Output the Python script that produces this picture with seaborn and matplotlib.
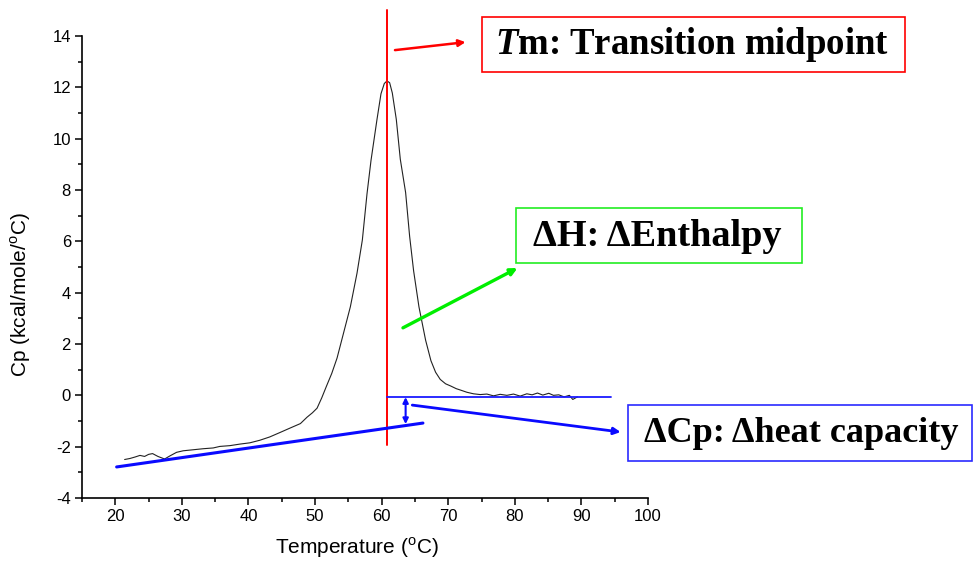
import matplotlib
matplotlib.use("Agg")
import matplotlib.pyplot as plt
from matplotlib.patches import Rectangle
import seaborn as sns
import pandas as pd

# DSC thermogram: excess heat capacity vs temperature
temperature = [21.4, 22.2, 23.0, 23.7, 24.4, 25.0, 25.6, 26.4, 27.4, 28.2, 29.2,
               30.2, 31.7, 33.2, 34.7, 35.7, 37.2, 38.7, 40.2, 41.7, 43.2, 44.8,
               46.2, 47.8, 48.8, 49.6, 50.3, 51.0, 51.7, 52.5, 53.3, 54.0, 55.3,
               56.3, 57.1, 57.8, 58.4, 59.3, 59.9, 60.4, 60.8, 61.2, 61.6, 62.2,
               62.8, 63.6, 64.2, 64.8, 65.6, 66.6, 67.4, 68.1, 68.8, 69.6, 70.4,
               71.2, 71.9, 72.8, 73.8, 74.8, 75.8, 76.8, 77.8, 78.8, 79.8, 80.8,
               81.8, 82.6, 83.4, 84.2, 85.1, 85.8, 86.6, 87.4, 88.2, 88.7, 89.4]
cp = [-2.50, -2.46, -2.40, -2.34, -2.38, -2.30, -2.27, -2.38, -2.48, -2.36, -2.22,
      -2.16, -2.12, -2.08, -2.05, -1.99, -1.96, -1.90, -1.85, -1.75, -1.62, -1.44,
      -1.28, -1.10, -0.85, -0.68, -0.50, -0.10, 0.35, 0.85, 1.45, 2.15, 3.45,
      4.76, 6.05, 7.85, 9.15, 10.75, 11.75, 12.15, 12.25, 12.18, 11.78, 10.75,
      9.20, 7.90, 6.20, 4.85, 3.45, 2.15, 1.35, 0.90, 0.62, 0.45, 0.36,
      0.26, 0.20, 0.12, 0.06, 0.03, 0.05, -0.02, 0.04, 0.00, 0.05, -0.03,
      0.06, 0.02, 0.09, 0.01, 0.08, 0.00, 0.02, -0.06, 0.00, -0.16, -0.06]

# Annotation geometry (data units)
tm = 60.8
tm_span = [-1.95, 15.0]
pre_baseline_x = [20.2, 66.2]
pre_baseline_y = [-2.79, -1.08]
post_baseline_x = [60.8, 94.5]
post_baseline_y = -0.07
dcp_x = 63.6
dcp_span = [-0.07, -1.12]
tm_arrow = [(62.0, 13.45), (72.6, 13.76)]
dh_arrow = [(63.2, 2.63), (80.4, 4.96)]
dcp_arrow = [(64.6, -0.38), (95.9, -1.43)]

x_ticks = [20, 30, 40, 50, 60, 70, 80, 90, 100]
y_ticks = [-4, -2, 0, 2, 4, 6, 8, 10, 12, 14]

sns.set_style("ticks")
plt.rcParams["font.family"] = ["Liberation Sans", "DejaVu Sans"]
plt.rcParams["text.color"] = "black"
plt.rcParams["axes.labelcolor"] = "black"
plt.rcParams["axes.unicode_minus"] = False
plt.rcParams["mathtext.fontset"] = "custom"
plt.rcParams["mathtext.rm"] = "Liberation Sans"
plt.rcParams["mathtext.bfit"] = "Liberation Serif:italic:bold"

fig = plt.figure(figsize=(9.74, 5.76), dpi=100)
ax = fig.add_axes([0.0842, 0.1354, 0.5811, 0.8021])

df = pd.DataFrame({"T": temperature, "Cp": cp})
sns.lineplot(data=df, x="T", y="Cp", ax=ax, color="#222222", lw=0.8, sort=False)

# Transition midpoint and baselines
ax.plot([tm, tm], tm_span, color="#ff0000", lw=1.4, clip_on=False, zorder=3)
ax.plot(pre_baseline_x, pre_baseline_y, color="#0a0aff", lw=2.2, zorder=3)
ax.plot(post_baseline_x, [post_baseline_y, post_baseline_y], color="#1a1aff", lw=1.3, zorder=3)

ax.annotate("", xy=(dcp_x, dcp_span[1]), xytext=(dcp_x, dcp_span[0]),
            arrowprops=dict(arrowstyle="<|-|>", color="#0a0aff", lw=1.5,
                            mutation_scale=8, shrinkA=0, shrinkB=0))
for (p0, p1), col, lw in [(tm_arrow, "#ff0000", 1.8),
                          (dh_arrow, "#00ee00", 2.4),
                          (dcp_arrow, "#0a0aff", 2.0)]:
    ax.annotate("", xy=p1, xytext=p0, annotation_clip=False,
                arrowprops=dict(arrowstyle="-|>", color=col, lw=lw,
                                mutation_scale=10, shrinkA=0, shrinkB=0))

ax.set_xlim(15, 100)
ax.set_ylim(-4, 14)
ax.set_xticks(x_ticks)
ax.set_yticks(y_ticks)
ax.set_xticks([15, 25, 35, 45, 55, 65, 75, 85, 95], minor=True)
ax.set_yticks([-3, -1, 1, 3, 5, 7, 9, 11, 13], minor=True)
ax.tick_params(which="major", direction="out", length=5, width=1.1, labelsize=12,
               colors="black", labelcolor="black", pad=3)
ax.tick_params(which="minor", direction="out", length=3, width=1.1, colors="black")
for side in ["left", "bottom"]:
    ax.spines[side].set_linewidth(1.2)
    ax.spines[side].set_color("black")
sns.despine(ax=ax)

ax.set_xlabel(r"Temperature ($^{\mathrm{o}}$C)", fontsize=15, color="black")
ax.set_ylabel(r"Cp (kcal/mole/$^{\mathrm{o}}$C)", fontsize=15, color="black")
ax.xaxis.set_label_coords(0.486, -0.08)
ax.yaxis.set_label_coords(-0.087, 0.44)

# Labelled boxes
W, H = 974.0, 576.0
boxes = [
    ((482, 17, 905, 72), "#ff0000", r"$\mathbfit{T}$m: Transition midpoint", (692, 45), 26.5),
    ((516, 208, 802, 263), "#22ee22", "ΔH: ΔEnthalpy", (657, 236), 27.5),
    ((628, 405, 972, 461), "#2a2aff", "ΔCp: Δheat capacity", (801, 433), 26),
]
for (x0, y0, x1, y1), col, label, (cx, cy), fs in boxes:
    fig.patches.append(Rectangle((x0 / W, 1 - y1 / H), (x1 - x0) / W, (y1 - y0) / H,
                                 transform=fig.transFigure, fill=False,
                                 edgecolor=col, lw=1.2))
    fig.text(cx / W, 1 - cy / H, label, ha="center", va="center", color="black",
             fontsize=fs, fontweight="bold", family=["Liberation Serif", "DejaVu Serif"])

fig.savefig("out.png", dpi=100)
